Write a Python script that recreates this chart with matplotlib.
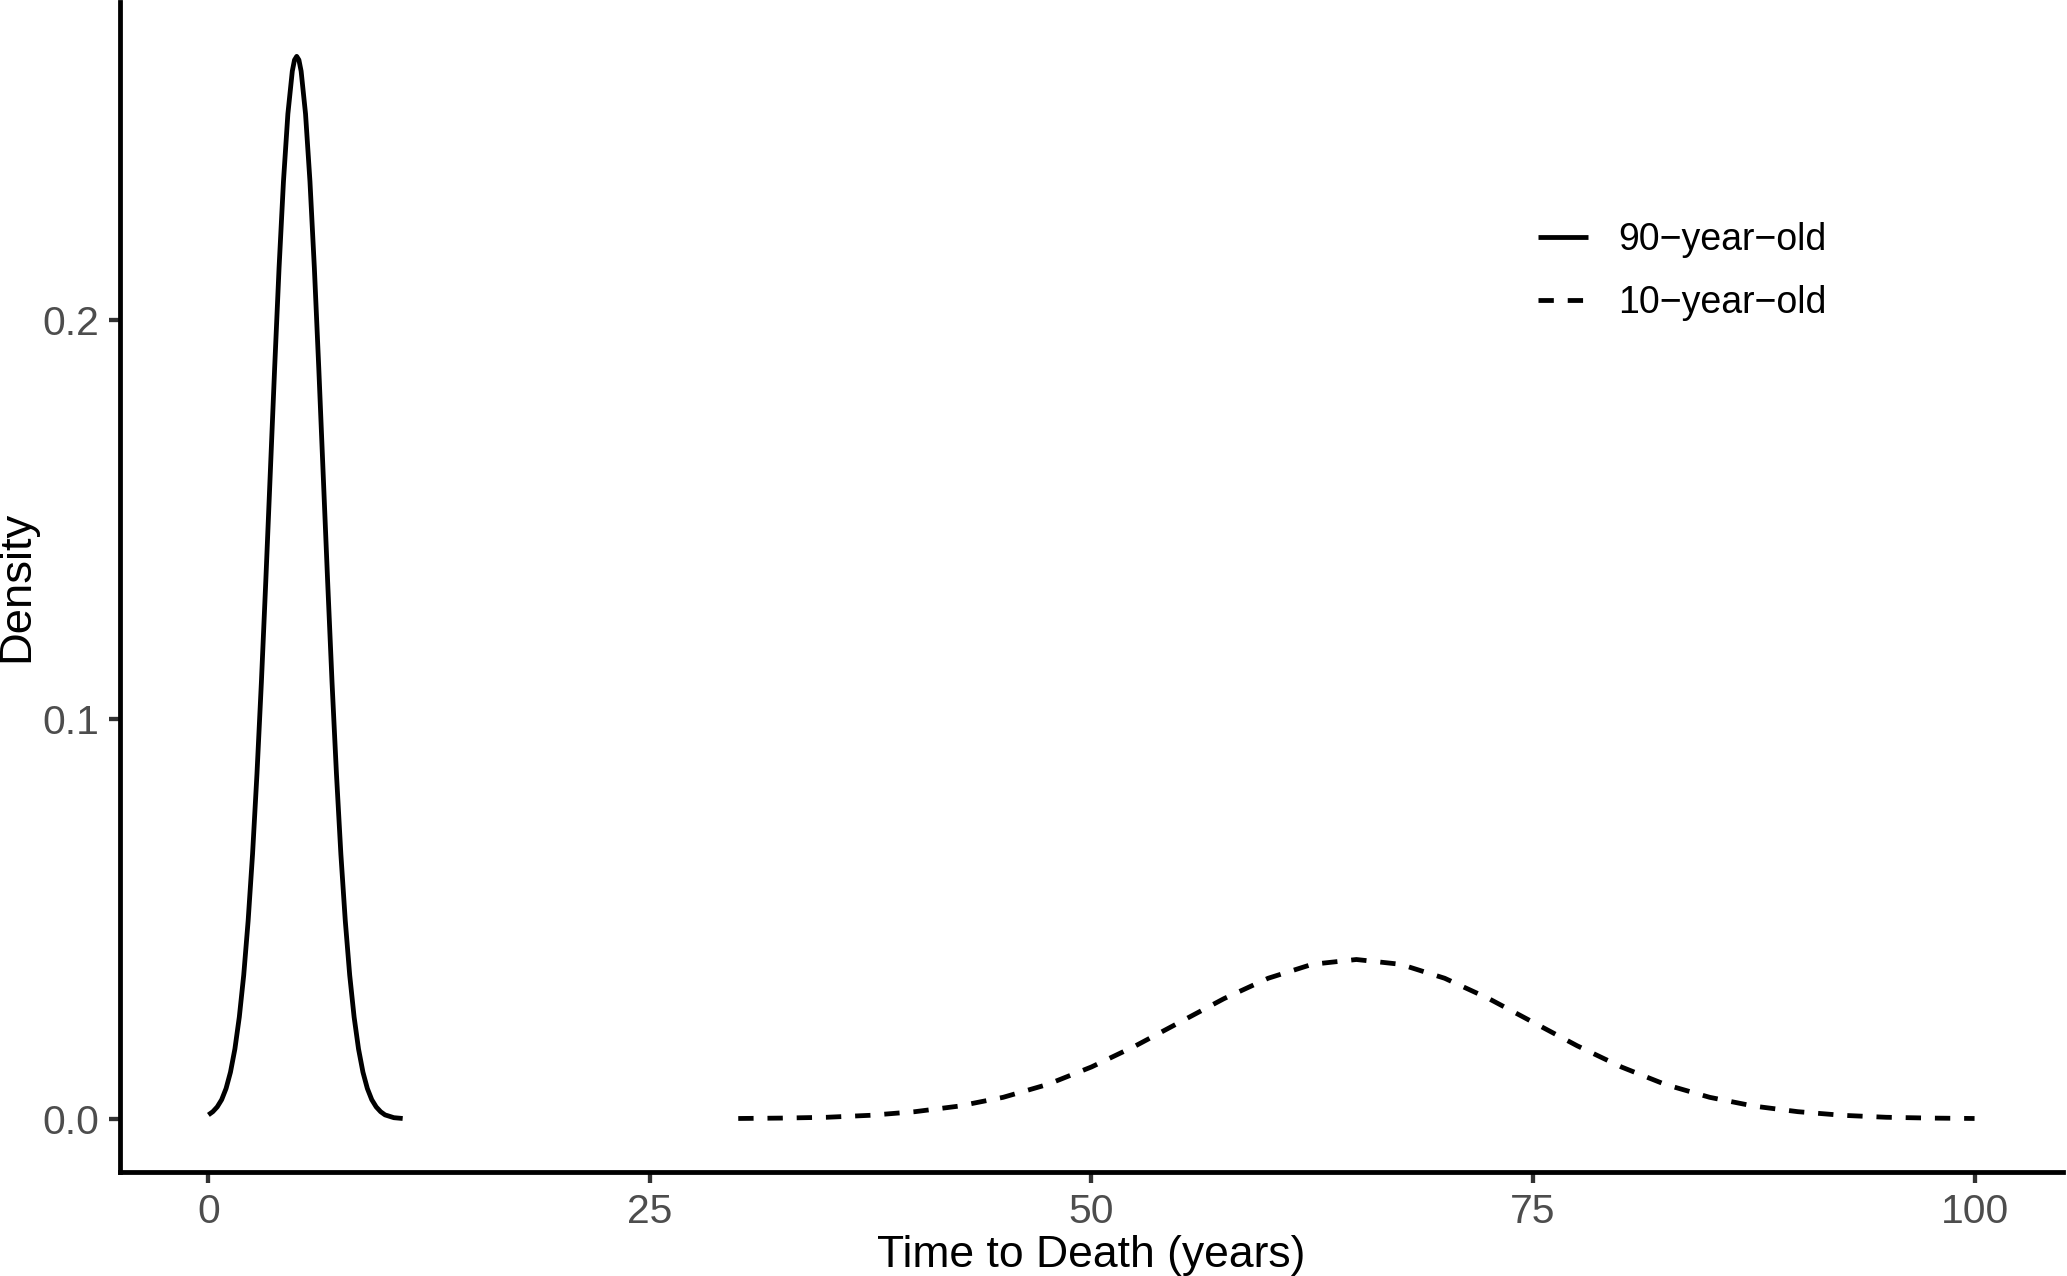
#!/usr/bin/env python3
"""
Density of time to death: 90-year-old vs 10-year-old
"""

import matplotlib
matplotlib.use('Agg')
import matplotlib.pyplot as plt

plt.rcParams['font.family'] = ['Liberation Sans', 'DejaVu Sans']
plt.rcParams['figure.facecolor'] = 'white'

# --- data ---
old_x = [0, 0.25, 0.5, 0.75, 1, 1.25, 1.5, 1.75, 2, 2.25, 2.5, 2.75, 3, 3.25, 3.5,
         3.75, 4, 4.25, 4.5, 4.75, 4.875, 5, 5.125, 5.25, 5.5, 5.75, 6, 6.25, 6.5,
         6.75, 7, 7.25, 7.5, 7.75, 8, 8.25, 8.5, 8.75, 9, 9.25, 9.5, 9.75, 10,
         10.5, 11]
old_y = [0.0010, 0.0018, 0.0030, 0.0048, 0.0076, 0.0117, 0.0175, 0.0255, 0.0360,
         0.0496, 0.0663, 0.0864, 0.1093, 0.1347, 0.1613, 0.1879, 0.2130, 0.2347,
         0.2516, 0.2623, 0.2651, 0.2660, 0.2651, 0.2623, 0.2516, 0.2347, 0.2130,
         0.1879, 0.1613, 0.1347, 0.1093, 0.0864, 0.0663, 0.0496, 0.0360, 0.0255,
         0.0175, 0.0117, 0.0076, 0.0048, 0.0030, 0.0018, 0.0010, 0.0003, 0.0001]

young_x = [30, 32.5, 35, 37.5, 40, 42.5, 45, 47.5, 50, 52.5, 55, 57.5, 60, 62.5, 65,
           67.5, 70, 72.5, 75, 77.5, 80, 82.5, 85, 87.5, 90, 92.5, 95, 97.5, 100]
young_y = [0.0001, 0.0002, 0.0004, 0.0009, 0.0018, 0.0032, 0.0054, 0.0086, 0.0130,
           0.0183, 0.0242, 0.0301, 0.0352, 0.0387, 0.0399, 0.0387, 0.0352, 0.0301,
           0.0242, 0.0183, 0.0130, 0.0086, 0.0054, 0.0032, 0.0018, 0.0009, 0.0004,
           0.0002, 0.0001]

labels = ['90\u2212year\u2212old', '10\u2212year\u2212old']
x_ticks = [0, 25, 50, 75, 100]
y_ticks = [0.0, 0.1, 0.2]
y_tick_labels = ['0.0', '0.1', '0.2']

TICK_GRAY = '#4D4D4D'
LW = 1.15


def make_figure():
    fig = plt.figure(figsize=(2067 / 300, 1276 / 300), dpi=300)
    ax = fig.add_axes([0.0581, 0.0815, 0.9399, 0.9172])

    ax.plot(old_x, old_y, color='black', lw=LW, label=labels[0],
            solid_capstyle='butt', solid_joinstyle='round')
    ax.plot(young_x, young_y, color='black', lw=LW, label=labels[1],
            dashes=(3.2, 2.9), dash_capstyle='butt')

    ax.set_xlim(-5, 105)
    ax.set_ylim(-0.0133, 0.2797)

    # theme_classic: only left/bottom axis lines
    for side in ['top', 'right']:
        ax.spines[side].set_visible(False)
    for side in ['left', 'bottom']:
        ax.spines[side].set_linewidth(LW)
        ax.spines[side].set_color('black')

    ax.set_xticks(x_ticks)
    ax.set_yticks(y_ticks)
    ax.set_yticklabels(y_tick_labels)
    ax.tick_params(axis='both', length=2.75, width=LW * 0.9, color='#333333',
                   labelcolor=TICK_GRAY, labelsize=9.8, pad=2.2)

    ax.set_xlabel('Time to Death (years)', fontsize=10.7, color='black', labelpad=1.0)
    ax.set_ylabel('Density', fontsize=10.9, color='black', labelpad=1.2)

    leg = ax.legend(loc='upper left', bbox_to_anchor=(0.737, 0.838),
                    bbox_transform=fig.transFigure, frameon=False,
                    fontsize=9.0, handlelength=1.33, handletextpad=0.8,
                    labelspacing=0.74, borderaxespad=0)
    for h in leg.get_lines():
        h.set_linewidth(LW)

    fig.savefig('out.png', dpi=300, facecolor='white')
    plt.close(fig)


if __name__ == '__main__':
    make_figure()
